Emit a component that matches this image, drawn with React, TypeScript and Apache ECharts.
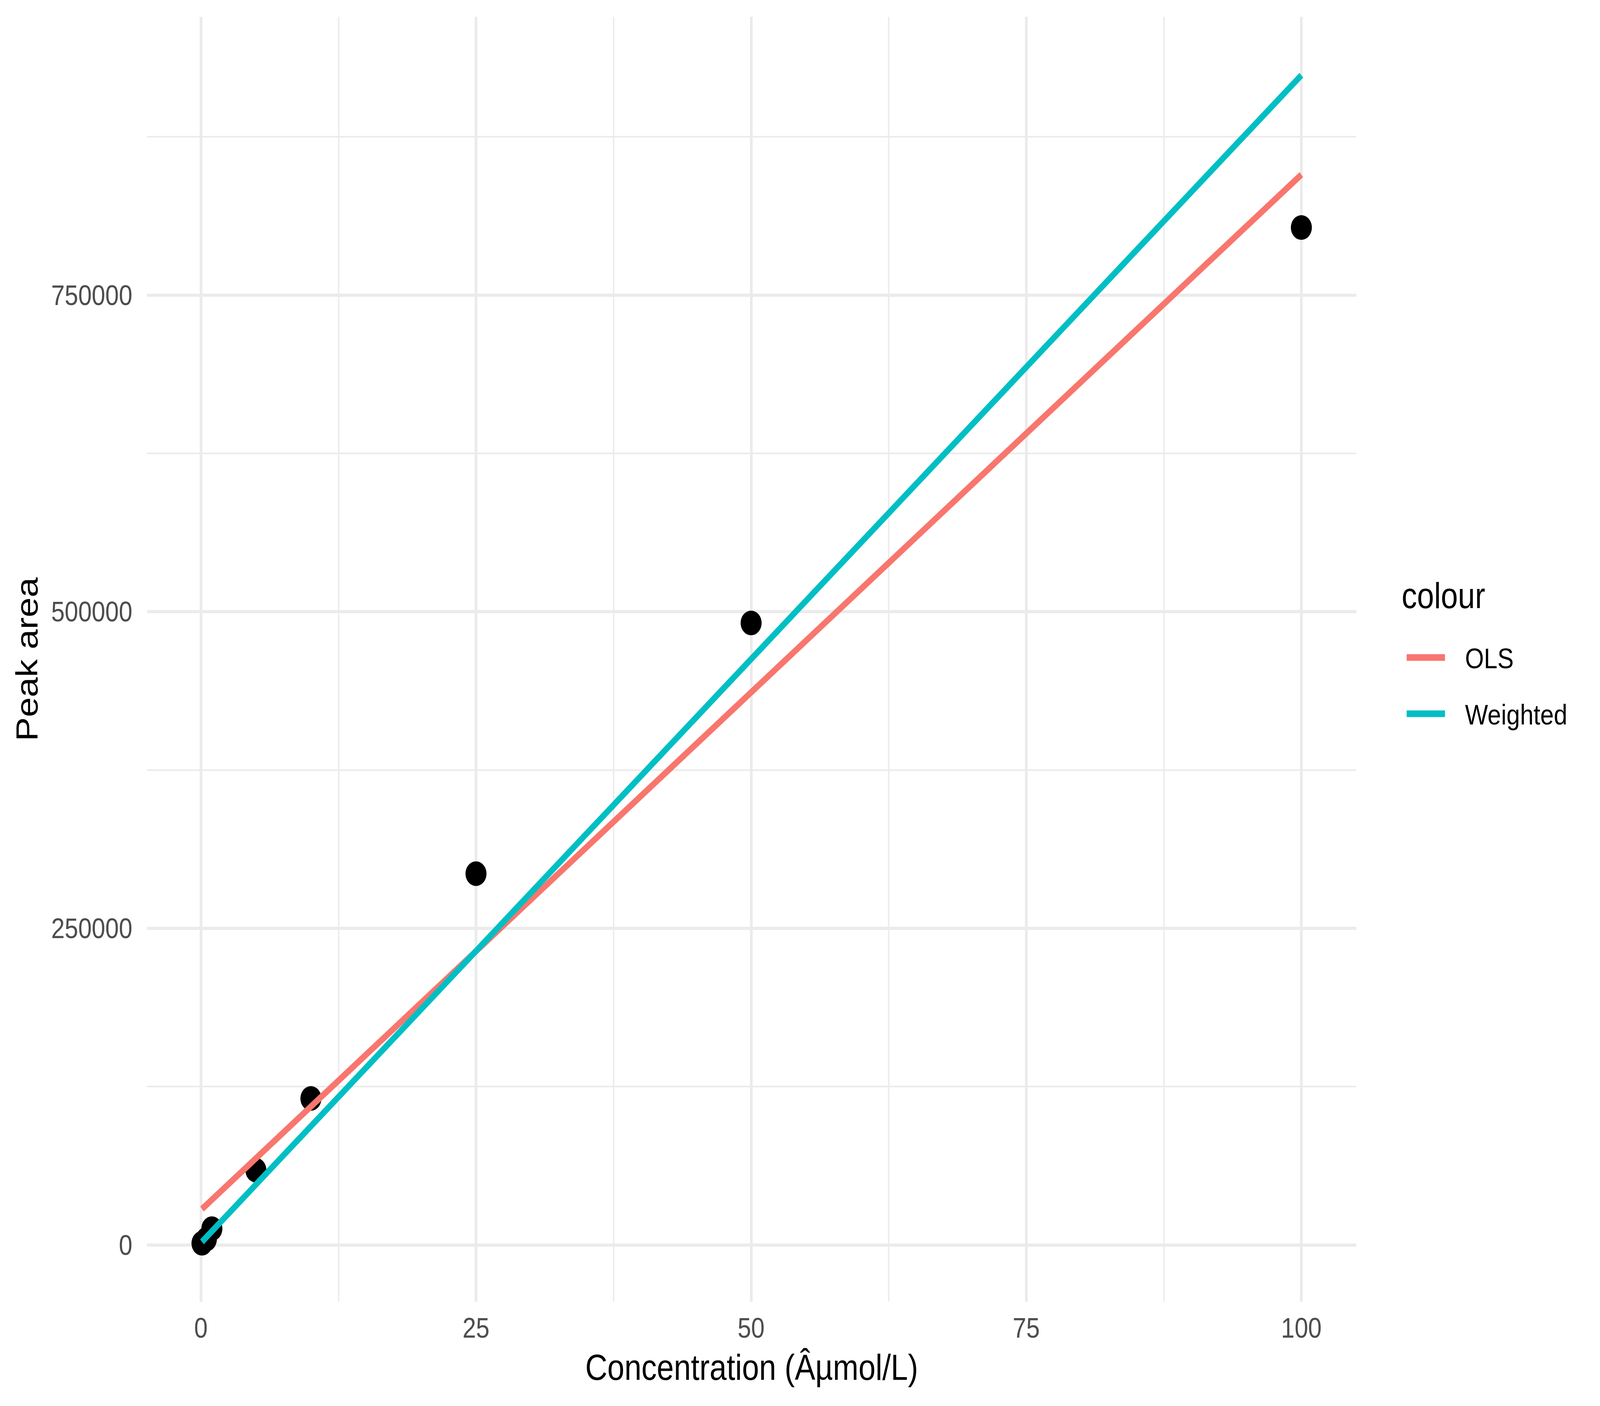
import React, { useEffect, useRef } from "react";
import * as echarts from "echarts";

// ---- data ----
const concentration = [0.1, 0.5, 1, 5, 10, 25, 50, 100];
const peakArea = [1230, 4440, 12770, 58930, 115580, 293080, 491050, 803300];

const fitX = [0.1, 100];
const olsFit = [28250, 845100];
const weightedFit = [2400, 923600];

const seriesNames = ["OLS", "Weighted"];
const seriesColors = ["#F8766D", "#00BFC4"];

const xTicks = [0, 25, 50, 75, 100];
const xMinor = [12.5, 37.5, 62.5, 87.5];
const yTicks = [0, 250000, 500000, 750000];
const yMinor = [125000, 375000, 625000, 875000];

const xTitle = "Concentration (Âµmol/L)";
const yTitle = "Peak area";
const legendTitle = "colour";

const FONT = "'Liberation Sans', Arial, Helvetica, sans-serif";
const W = 4800;
const H = 3600;

export default function App() {
  const ref = useRef<HTMLDivElement>(null);
  const sx = typeof window !== "undefined" ? window.innerWidth / W : 1;
  const sy = typeof window !== "undefined" ? window.innerHeight / H : 1;

  useEffect(() => {
    if (!ref.current) return;
    const chart = echarts.init(ref.current, undefined, { renderer: "svg" });

    const gridLeft = 441;
    const gridTop = 43;
    const gridRight = 4069;
    const gridBottom = 3333;

    const grid = (v: number, axis: "xAxis" | "yAxis", width: number) => ({
      [axis]: v,
      lineStyle: { width, color: "#EBEBEB", type: "solid" },
    });

    const txt = (
      text: string,
      x: number,
      y: number,
      size: number,
      align: string,
      rotation = 0
    ) => ({
      type: "text",
      x,
      y,
      rotation,
      style: {
        text,
        fontSize: size,
        fontFamily: FONT,
        fill: "#000000",
        align,
        verticalAlign: "middle",
        textAlign: align,
        textVerticalAlign: "middle",
      },
    });

    const option: any = {
      animation: false,
      backgroundColor: "#FFFFFF",
      textStyle: { fontFamily: FONT },
      grid: {
        left: gridLeft,
        top: gridTop,
        width: gridRight - gridLeft,
        height: gridBottom - gridTop,
        containLabel: false,
      },
      xAxis: {
        type: "value",
        min: -4.895,
        max: 104.995,
        axisLine: { show: false },
        axisTick: { show: false },
        splitLine: { show: false },
        axisLabel: {
          customValues: xTicks,
          formatter: (v: number) => String(v),
          fontSize: 73,
          lineHeight: 73,
          color: "#4D4D4D",
          fontFamily: FONT,
          margin: 30,
        },
      },
      yAxis: {
        type: "value",
        min: -44920,
        max: 969720,
        axisLine: { show: false },
        axisTick: { show: false },
        splitLine: { show: false },
        axisLabel: {
          customValues: yTicks,
          formatter: (v: number) => String(v),
          fontSize: 73,
          lineHeight: 73,
          color: "#4D4D4D",
          fontFamily: FONT,
          margin: 44,
        },
      },
      series: [
        {
          type: "line",
          name: "__grid",
          data: [],
          silent: true,
          z: 0,
          markLine: {
            silent: true,
            z: 0,
            symbol: ["none", "none"],
            label: { show: false },
            emphasis: { disabled: true },
            animation: false,
            data: [
              ...xMinor.map((v) => grid(v, "xAxis", 4)),
              ...yMinor.map((v) => grid(v, "yAxis", 4)),
              ...xTicks.map((v) => grid(v, "xAxis", 8)),
              ...yTicks.map((v) => grid(v, "yAxis", 8)),
            ],
          },
        },
        {
          type: "scatter",
          name: "points",
          z: 3,
          symbol: "circle",
          symbolSize: 63,
          itemStyle: { color: "#000000", opacity: 1 },
          data: concentration.map((c, i) => [c, peakArea[i]]),
        },
        {
          type: "line",
          name: seriesNames[0],
          z: 4,
          showSymbol: false,
          symbol: "none",
          lineStyle: { width: 16.5, color: seriesColors[0], cap: "butt", opacity: 1 },
          itemStyle: { color: seriesColors[0] },
          data: fitX.map((x, i) => [x, olsFit[i]]),
        },
        {
          type: "line",
          name: seriesNames[1],
          z: 4,
          showSymbol: false,
          symbol: "none",
          lineStyle: { width: 16.5, color: seriesColors[1], cap: "butt", opacity: 1 },
          itemStyle: { color: seriesColors[1] },
          data: fitX.map((x, i) => [x, weightedFit[i]]),
        },
      ],
      graphic: [
        txt(xTitle, (gridLeft + gridRight) / 2, 3501, 92, "center"),
        txt(yTitle, 81, (gridTop + gridBottom) / 2, 92, "center", Math.PI / 2),
        txt(legendTitle, 4205, 1525, 92, "left"),
        ...seriesNames.flatMap((name, i) => [
          {
            type: "rect",
            shape: { x: 4220, y: 1675 + i * 144, width: 115, height: 17 },
            style: { fill: seriesColors[i] },
          },
          txt(name, 4395, 1686 + i * 144, 73, "left"),
        ]),
      ],
    };

    chart.setOption(option);
    return () => chart.dispose();
  }, []);

  return (
    <div
      style={{
        position: "fixed",
        left: 0,
        top: 0,
        width: "100vw",
        height: "100vh",
        overflow: "hidden",
        background: "#FFFFFF",
      }}
    >
      <div
        ref={ref}
        style={{
          position: "absolute",
          left: 0,
          top: 0,
          width: W,
          height: H,
          background: "#FFFFFF",
          transform: `scale(${sx}, ${sy})`,
          transformOrigin: "0 0",
        }}
      />
    </div>
  );
}
